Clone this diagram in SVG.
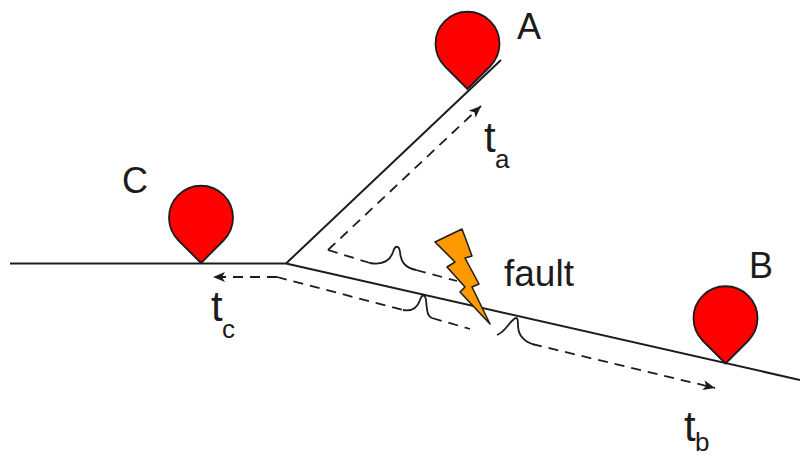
<svg xmlns="http://www.w3.org/2000/svg" width="800" height="457" viewBox="0 0 800 457">
<style>
text{font-family:"Liberation Sans",Arial,sans-serif;fill:#1c1c1c}
.l{font-size:36px}.f{font-size:37px}.t{font-size:42px}.s{font-size:26px}
.ln{fill:none;stroke:#1c1c1c;stroke-width:2}
.d{fill:none;stroke:#1c1c1c;stroke-width:1.8;stroke-dasharray:10 7}
.c{fill:none;stroke:#1c1c1c;stroke-width:1.8}
.p{fill:#f00;stroke:#1c1c1c;stroke-width:1.8;stroke-linejoin:round}
</style>
<defs>
<marker id="ah" markerUnits="userSpaceOnUse" markerWidth="14" markerHeight="12" refX="12" refY="5" orient="auto"><path d="M0 0L12 5L0 10L3 5Z" fill="#1c1c1c"/></marker>
<path id="pin" d="M0 0L-22.500 -22.500A32 32 0 1 1 22.500 -22.500Z"/>
</defs>
<g id="connectors">
<path class="ln" d="M10 263.500H286M286 263.500L800 380M286 263.500L501 60"/>
<path class="d" d="M328 250L481 106" marker-end="url(#ah)"/>
<path class="d" d="M328 250L370 263"/>
<path class="c" d="M370 263C382 265 390 261 393 252C395 245 399 245 400 252C401 264 407 268 416 270"/>
<path class="d" d="M416 270L457 281"/>
<path class="d" d="M277 277L213 277" marker-end="url(#ah)"/>
<path class="d" d="M277 277L403 310"/>
<path class="c" d="M403 310C414 312 418 306 420 300C422 294 425 294 426 300C427 310 427 316 432 318"/>
<path class="d" d="M432 318L470 329"/>
<path class="c" d="M497 335C505 332 508 324 513 320C517 316 518 318 518 325C518 336 524 341 532 344"/>
<path class="d" d="M532 344L715 388" marker-end="url(#ah)"/>
</g>
<g id="node-a"><use href="#pin" class="p" x="467.500" y="89"/><text class="l" x="517" y="39">A</text></g>
<g id="node-b"><use href="#pin" class="p" x="725.500" y="363.500"/><text class="l" x="749" y="278">B</text></g>
<g id="node-c"><use href="#pin" class="p" x="201" y="263"/><text class="l" x="122" y="193">C</text></g>
<g id="fault"><path d="M435 242L462 229L472 256L465 258L479 284L472 287L490 324L460 292L465 287L447 267L455 262Z" fill="#f90" stroke="#1c1c1c" stroke-width="1.5" stroke-linejoin="round"/><text class="f" x="504" y="286">fault</text></g>
<g id="label-ta"><text class="t" x="484" y="152">t</text><text class="s" x="495" y="168">a</text></g>
<g id="label-tb"><text class="t" x="684" y="441">t</text><text class="s" x="695" y="451">b</text></g>
<g id="label-tc"><text class="t" x="211" y="321">t</text><text class="s" x="222" y="338">c</text></g>
</svg>
